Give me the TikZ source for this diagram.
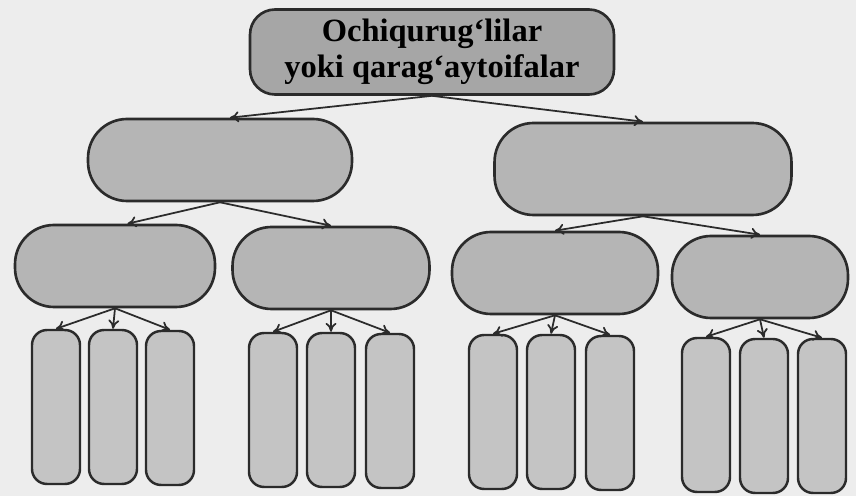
\documentclass[tikz,border=0pt]{standalone}
\usepackage{fontspec}
\setmainfont{Liberation Serif}
\usetikzlibrary{arrows.meta, positioning}
\definecolor{scanBg}{HTML}{EDEDED}
\definecolor{inkDark}{HTML}{2B2B2B}
\definecolor{rootFill}{HTML}{A6A6A6}
\definecolor{groupFill}{HTML}{B5B5B5}
\definecolor{leafFill}{HTML}{C4C4C4}

\begin{document}
\begin{tikzpicture}[
  x=0.02cm, y=-0.02cm,
  root/.style={draw=inkDark, line width=1.5pt, rounded corners=0.5cm, fill=rootFill, minimum width=7.28cm, minimum height=1.7cm, align=center, inner sep=0pt, font=\fontsize{18.5}{20.5}\selectfont\bfseries},
  group/.style={draw=inkDark, line width=1.5pt, rounded corners=0.78cm, fill=groupFill, minimum height=1.64cm, inner sep=0pt},
  leaf/.style={draw=inkDark, line width=1.4pt, rounded corners=0.3cm, fill=leafFill, minimum width=0.96cm, minimum height=3.08cm, inner sep=0pt},
  arr/.style={-{To[length=1.8mm, width=2.2mm]}, line width=1pt, draw=inkDark}
]
\fill[scanBg] (0,0) rectangle (856,496);
\useasboundingbox (0,0) rectangle (856,496);

\node[root] (root) at (432,52) {Ochiqurug‘lilar\\yoki qarag‘aytoifalar};

\node[group, minimum width=5.28cm] (left) at (220,160) {};
\node[group, minimum width=5.94cm, minimum height=1.84cm] (right) at (643,169) {};

\node[group, minimum width=4.0cm] (grpA) at (115,266) {};
\node[group, minimum width=3.94cm] (grpB) at (331,268) {};
\node[group, minimum width=4.12cm] (grpC) at (555,273) {};
\node[group, minimum width=3.52cm] (grpD) at (760,277) {};

\node[leaf] (a1) at (56,407) {};
\node[leaf] (a2) at (113,407) {};
\node[leaf] (a3) at (170,408) {};
\node[leaf] (b1) at (273,410) {};
\node[leaf] (b2) at (331,410) {};
\node[leaf] (b3) at (390,411) {};
\node[leaf] (c1) at (493,412) {};
\node[leaf] (c2) at (551,412) {};
\node[leaf] (c3) at (610,413) {};
\node[leaf] (d1) at (706,415) {};
\node[leaf] (d2) at (764,416) {};
\node[leaf] (d3) at (822,416) {};

\draw[arr] (root.south) -- ([xshift=0.2cm]left.north);
\draw[arr] (root.south) -- (right.north);
\draw[arr] (left.south) -- ([xshift=0.25cm]grpA.north);
\draw[arr] (left.south) -- (grpB.north);
\draw[arr] (right.south) -- (grpC.north);
\draw[arr] (right.south) -- (grpD.north);
\draw[arr] (grpA.south) -- (a1.north);
\draw[arr] (grpA.south) -- (a2.north);
\draw[arr] (grpA.south) -- (a3.north);
\draw[arr] (grpB.south) -- (b1.north);
\draw[arr] (grpB.south) -- (b2.north);
\draw[arr] (grpB.south) -- (b3.north);
\draw[arr] (grpC.south) -- (c1.north);
\draw[arr] (grpC.south) -- (c2.north);
\draw[arr] (grpC.south) -- (c3.north);
\draw[arr] (grpD.south) -- (d1.north);
\draw[arr] (grpD.south) -- (d2.north);
\draw[arr] (grpD.south) -- (d3.north);
\end{tikzpicture}
\end{document}
